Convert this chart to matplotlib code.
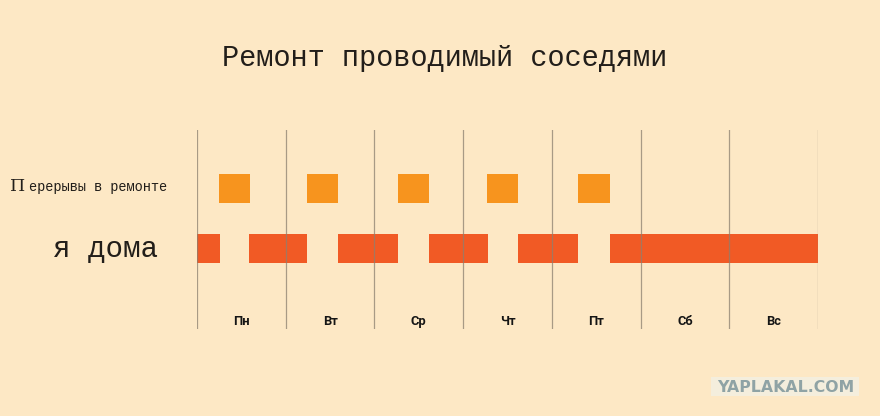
import matplotlib
matplotlib.use("Agg")
import matplotlib.pyplot as plt
from matplotlib.patches import Rectangle

# ---- data ----
title = "Ремонт проводимый соседями"
days = ["Пн", "Вт", "Ср", "Чт", "Пт", "Сб", "Вс"]
row_labels = ["Перерывы в ремонте", "я дома"]
# breaks in the repair (in days from Monday 00:00)
break_start = [0.25, 1.24, 2.27, 3.27, 4.29]
break_end = [0.60, 1.59, 2.62, 3.62, 4.65]
# times I'm at home
home_start = [0.00, 0.59, 1.59, 2.62, 3.62, 4.65]
home_end = [0.26, 1.24, 2.27, 3.28, 4.29, 7.00]
watermark = "YAPLAKAL.COM"

# ---- style ----
BG = "#FDE8C5"
C_BREAK = "#F7941E"
C_HOME = "#F15A25"
C_LINE = "#8C8070"
C_TEXT = "#221e1a"

W, H = 880, 416
fig = plt.figure(figsize=(W / 100, H / 100), dpi=100, facecolor=BG)


def fx(x):
    return x / W


def fy(y):
    return 1 - y / H


ax = fig.add_axes([fx(197), fy(329), (818 - 197) / W, (329 - 130) / H])
ax.set_facecolor("none")
ax.set_xlim(0, len(days))
ax.set_ylim(2.338, -0.978)
ax.axis("off")

bh = 0.49
ax.barh([0] * len(break_start), [e - s for s, e in zip(break_start, break_end)],
        left=break_start, height=bh, color=C_BREAK, zorder=2, linewidth=0)
ax.barh([1] * len(home_start), [e - s for s, e in zip(home_start, home_end)],
        left=home_start, height=bh, color=C_HOME, zorder=2, linewidth=0)

for i in range(len(days) + 1):
    ax.axvline(i, ymin=0, ymax=1, color=C_LINE, lw=0.9, alpha=0.75, zorder=3)

for i, d in enumerate(days):
    ax.text(i + 0.5, 2.205, d, ha="center", va="center", fontsize=9.3,
            fontweight="bold", family="Roboto", color="#151515")

# title
fig.text(fx(445), fy(66.5), title, ha="center", va="baseline",
         family="Liberation Mono", fontsize=20.6, color=C_TEXT)

# row labels
lab0 = row_labels[0]
fig.text(fx(10), fy(191), lab0[0], ha="left", va="baseline",
         family="DejaVu Serif", fontsize=12.5, color=C_TEXT)
fig.text(fx(167), fy(190.7), lab0[1:], ha="right", va="baseline",
         family="Liberation Mono", fontsize=9.8, color=C_TEXT)
fig.text(fx(105), fy(257.3), row_labels[1], ha="center", va="baseline",
         family="Liberation Mono", fontsize=21, color=C_TEXT)

# watermark
fig.patches.append(Rectangle((fx(711), fy(396)), 148 / W, 19 / H,
                             transform=fig.transFigure, facecolor="#F4EEDD",
                             edgecolor="none", zorder=0))
fig.text(fx(786), fy(387), watermark, ha="center", va="center",
         family="DejaVu Sans", fontweight="bold", fontsize=11.3,
         color="#8FA3A5")

fig.savefig("out.png", dpi=100, facecolor=BG)
